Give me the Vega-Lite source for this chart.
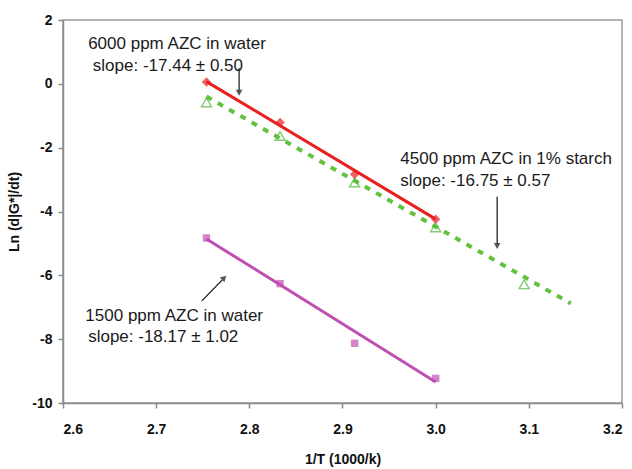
{
  "$schema": "https://vega.github.io/schema/vega-lite/v6.json",
  "width": 559,
  "height": 383,
  "autosize": {"type": "none"},
  "padding": {"left": 63, "top": 20, "right": 10, "bottom": 66},
  "background": "white",
  "config": {
    "view": {"stroke": "#9a9a9a", "strokeWidth": 1.5},
    "font": "Liberation Sans"
  },
  "datasets": {
    "pts": [
      {"series": "6000", "x": 2.754, "y": 0.06},
      {"series": "6000", "x": 2.833, "y": -1.21},
      {"series": "6000", "x": 2.913, "y": -2.83},
      {"series": "6000", "x": 3.0, "y": -4.24},
      {"series": "4500", "x": 2.754, "y": -0.58},
      {"series": "4500", "x": 2.833, "y": -1.63},
      {"series": "4500", "x": 2.913, "y": -3.09},
      {"series": "4500", "x": 3.0, "y": -4.5},
      {"series": "4500", "x": 3.095, "y": -6.28},
      {"series": "1500", "x": 2.754, "y": -4.83},
      {"series": "1500", "x": 2.833, "y": -6.26},
      {"series": "1500", "x": 2.913, "y": -8.13},
      {"series": "1500", "x": 3.0, "y": -9.23}
    ],
    "fits": [
      {"series": "6000", "x": 2.754, "y": 0.07},
      {"series": "6000", "x": 3.0, "y": -4.24},
      {"series": "4500", "x": 2.754, "y": -0.4},
      {"series": "4500", "x": 3.145, "y": -6.88},
      {"series": "1500", "x": 2.754, "y": -4.86},
      {"series": "1500", "x": 3.0, "y": -9.34}
    ],
    "labels": [
      {"x": 2.627, "y": 1.25, "text": "6000 ppm AZC in water"},
      {"x": 2.632, "y": 0.56, "text": "slope: -17.44 ± 0.50"},
      {"x": 2.962, "y": -2.35, "text": "4500 ppm AZC in 1% starch"},
      {"x": 2.962, "y": -3.04, "text": "slope: -16.75 ± 0.57"},
      {"x": 2.624, "y": -7.27, "text": "1500 ppm AZC in water"},
      {"x": 2.627, "y": -7.93, "text": "slope: -18.17 ± 1.02"}
    ],
    "arrows": [
      {"x": 2.789, "y": 0.5, "x2": 2.789, "y2": -0.2, "hx": 2.789, "hy": -0.28, "angle": 180},
      {"x": 3.066, "y": -3.54, "x2": 3.066, "y2": -5.0, "hx": 3.066, "hy": -5.08, "angle": 180},
      {"x": 2.749, "y": -6.8, "x2": 2.771, "y2": -6.14, "hx": 2.773, "hy": -6.08, "angle": 45}
    ]
  },
  "encoding": {
    "x": {
      "field": "x", "type": "quantitative",
      "scale": {"domain": [2.6, 3.2], "nice": false, "zero": false},
      "axis": {
        "title": "1/T (1000/k)", "values": [2.6, 2.7, 2.8, 2.9, 3.0, 3.1, 3.2], "format": ".1f",
        "grid": false, "domainColor": "#8a8a8a", "domainWidth": 1.5, "tickColor": "#8a8a8a", "tickWidth": 1.5, "tickSize": 5,
        "labelFont": "Liberation Sans", "labelFontWeight": 700, "labelFontSize": 14, "labelColor": "#111", "labelPadding": 14,
        "titleFont": "Liberation Sans", "titleFontWeight": 700, "titleFontSize": 14, "titleColor": "#111", "titlePadding": 16
      }
    },
    "y": {
      "field": "y", "type": "quantitative",
      "scale": {"domain": [-10, 2], "nice": false, "zero": false},
      "axis": {
        "title": "Ln (d|G*|/dt)", "values": [-10, -8, -6, -4, -2, 0, 2],
        "labelExpr": "'' + datum.value",
        "grid": false, "domainColor": "#8a8a8a", "domainWidth": 1.5, "tickColor": "#8a8a8a", "tickWidth": 1.5, "tickSize": 5,
        "labelFont": "Liberation Sans", "labelFontWeight": 700, "labelFontSize": 14, "labelColor": "#111", "labelPadding": 6,
        "titleFont": "Liberation Sans", "titleFontWeight": 700, "titleFontSize": 14, "titleColor": "#111", "titlePadding": 10
      }
    }
  },
  "layer": [
    {
      "data": {"name": "fits"},
      "transform": [{"filter": "datum.series == '4500'"}],
      "mark": {"type": "line", "color": "#63c13e", "strokeWidth": 4, "strokeDash": [6, 7]},
      "encoding": {}
    },
    {
      "data": {"name": "fits"},
      "transform": [{"filter": "datum.series == '6000'"}],
      "mark": {"type": "line", "color": "#e8201f", "strokeWidth": 3},
      "encoding": {}
    },
    {
      "data": {"name": "fits"},
      "transform": [{"filter": "datum.series == '1500'"}],
      "mark": {"type": "line", "color": "#c04fb3", "strokeWidth": 3},
      "encoding": {}
    },
    {
      "data": {"name": "pts"},
      "transform": [{"filter": "datum.series == '4500'"}],
      "mark": {"type": "point", "shape": "triangle-up", "size": 100, "color": "#4cb934", "filled": false, "strokeWidth": 1.4}
    },
    {
      "data": {"name": "pts"},
      "transform": [{"filter": "datum.series == '6000'"}],
      "mark": {"type": "point", "shape": "diamond", "size": 90, "color": "#e8201f", "filled": true}
    },
    {
      "data": {"name": "pts"},
      "transform": [{"filter": "datum.series == '1500'"}],
      "mark": {"type": "point", "shape": "square", "size": 55, "color": "#c04fb3", "filled": true}
    },
    {
      "data": {"name": "arrows"},
      "mark": {"type": "rule", "color": "#111", "strokeWidth": 1.2},
      "encoding": {"x2": {"field": "x2"}, "y2": {"field": "y2"}}
    },
    {
      "data": {"name": "arrows"},
      "mark": {"type": "point", "shape": "triangle-up", "size": 45, "color": "#111", "filled": true},
      "encoding": {
        "x": {"field": "hx", "type": "quantitative"},
        "y": {"field": "hy", "type": "quantitative"},
        "angle": {"field": "angle", "type": "quantitative", "scale": null}
      }
    },
    {
      "data": {"name": "labels"},
      "mark": {"type": "text", "align": "left", "baseline": "middle", "fontSize": 17, "color": "#1a1a1a", "font": "Liberation Sans"},
      "encoding": {"text": {"field": "text"}}
    }
  ]
}
